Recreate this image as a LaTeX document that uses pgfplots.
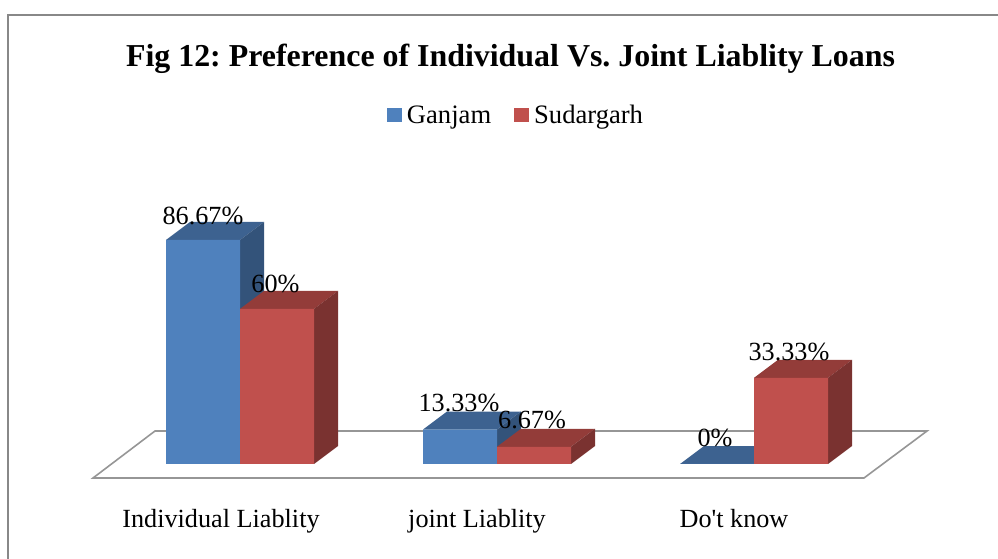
\documentclass[border=0pt]{standalone}
\usepackage{pgfplots}
\pgfplotsset{compat=1.18}
\usepackage{fontspec}
\setmainfont{Liberation Serif}
\frenchspacing
\definecolor{bluef}{HTML}{4F81BD}
\definecolor{bluet}{HTML}{3D6290}
\definecolor{blues}{HTML}{33537A}
\definecolor{redf}{HTML}{C0504D}
\definecolor{redt}{HTML}{933C39}
\definecolor{reds}{HTML}{7A3230}
\definecolor{frame}{HTML}{888888}
\definecolor{floorc}{HTML}{969696}
\begin{document}
\begin{tikzpicture}
\path[use as bounding box] (0,0) rectangle (998pt,559pt);
\begin{axis}[
  at={(0,0)}, anchor=south west,
  scale only axis, width=998pt, height=559pt,
  xmin=0, xmax=998, ymin=-36.75, ymax=179.497,
  hide axis,
  legend style={at={(axis cs:516,134.9)}, anchor=center, draw=none, fill=none,
    legend columns=2, font=\fontsize{26.6}{26.6}\selectfont,
    /tikz/every even column/.style={column sep=21pt},
    inner sep=0pt, outer sep=0pt},
  legend image code/.code={\fill[#1] (0pt,-7pt) rectangle (15pt,7pt); \path (18pt,0pt);},
]
% frame
\addplot[forget plot, frame, line width=2pt] coordinates {(8,-36.75) (8,173.7) (998,173.7)};
% floor
\addplot[forget plot, floorc, line width=1.6pt, fill=white] coordinates {(93,-5.416) (155,12.766) (927,12.766) (864,-5.416)} --cycle;
% Ganjam tops and sides
\addplot[forget plot, draw=none, fill=bluet] coordinates {(166,86.67) (190,93.63) (264,93.63) (240,86.67)} --cycle;
\addplot[forget plot, draw=none, fill=blues] coordinates {(240,0) (264,6.96) (264,93.63) (240,86.67)} --cycle;
\addplot[forget plot, draw=none, fill=bluet] coordinates {(423,13.33) (447,20.29) (521,20.29) (497,13.33)} --cycle;
\addplot[forget plot, draw=none, fill=blues] coordinates {(497,0) (521,6.96) (521,20.29) (497,13.33)} --cycle;
\addplot[forget plot, draw=none, fill=bluet] coordinates {(680,0) (704,6.96) (778,6.96) (754,0)} --cycle;
% Ganjam fronts
\addplot[ybar, bar width=74pt, draw=none, fill=bluef, bar shift=0pt] coordinates {(203,86.67) (460,13.33) (717,0)};
\addlegendentry{Ganjam}
% Sudargarh tops and sides
\addplot[forget plot, draw=none, fill=redt] coordinates {(240,60) (264,66.96) (338,66.96) (314,60)} --cycle;
\addplot[forget plot, draw=none, fill=reds] coordinates {(314,0) (338,6.96) (338,66.96) (314,60)} --cycle;
\addplot[forget plot, draw=none, fill=redt] coordinates {(497,6.67) (521,13.63) (595,13.63) (571,6.67)} --cycle;
\addplot[forget plot, draw=none, fill=reds] coordinates {(571,0) (595,6.96) (595,13.63) (571,6.67)} --cycle;
\addplot[forget plot, draw=none, fill=redt] coordinates {(754,33.33) (778,40.29) (852,40.29) (828,33.33)} --cycle;
\addplot[forget plot, draw=none, fill=reds] coordinates {(828,0) (852,6.96) (852,40.29) (828,33.33)} --cycle;
% Sudargarh fronts
\addplot[ybar, bar width=74pt, draw=none, fill=redf, bar shift=0pt] coordinates {(277,60) (534,6.67) (791,33.33)};
\addlegendentry{Sudargarh}
% text
\node[anchor=base, font=\fontsize{31.9}{32}\selectfont\bfseries] at (axis cs:510.5,153.6) {Fig 12: Preference of Individual Vs. Joint Liablity Loans};
\begin{scope}[every node/.style={anchor=base, font=\fontsize{26.2}{26}\selectfont}]
\node at (axis cs:203,92.84) {86.67\%};
\node at (axis cs:275.5,66.15) {60\%};
\node at (axis cs:459,20.12) {13.33\%};
\node at (axis cs:532,13.54) {6.67\%};
\node at (axis cs:715,6.96) {0\%};
\node at (axis cs:789,39.85) {33.33\%};
\node at (axis cs:221,-24.7) {Individual Liablity};
\node at (axis cs:477,-24.7) {joint Liablity};
\node at (axis cs:734,-24.7) {Do\textquotesingle t know};
\end{scope}
\end{axis}
\end{tikzpicture}
\end{document}
